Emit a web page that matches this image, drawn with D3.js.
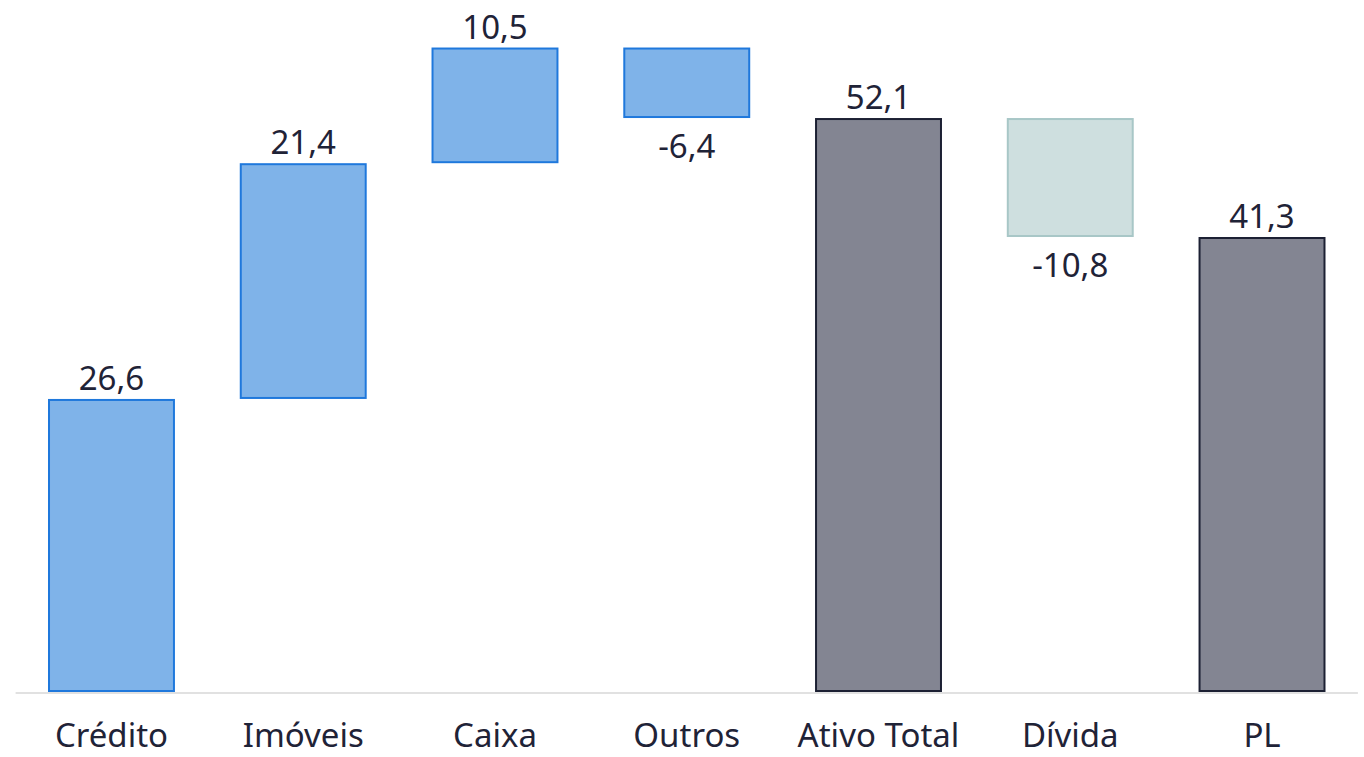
<!DOCTYPE html>
<html><head><meta charset="utf-8">
<script src="https://cdn.jsdelivr.net/npm/d3@7"></script>
<style>html,body{margin:0;padding:0;background:#fff;}svg{display:block;}</style>
</head><body>
<svg id="c" width="1364" height="757"></svg>
<script>
const categories = ["Crédito","Imóveis","Caixa","Outros","Ativo Total","Dívida","PL"];
const values = [26.6, 21.4, 10.5, -6.4, 52.1, -10.8, 41.3];
const kinds = ["delta","delta","delta","delta","total","delta","total"];
const labels = ["26,6","21,4","10,5","-6,4","52,1","-10,8","41,3"];

const W = 1364, H = 757;
const svg = d3.select("#c");
const font = "'Noto Sans', 'Open Sans', sans-serif";
const textColor = "#1f2337";

// compute waterfall spans
let cum = 0;
const bars = categories.map((c, i) => {
  let y0, y1;
  if (kinds[i] === "total") { y0 = 0; y1 = values[i]; cum = values[i]; }
  else { y0 = cum; y1 = cum + values[i]; cum = y1; }
  return {cat: c, v: values[i], kind: kinds[i], lo: Math.min(y0,y1), hi: Math.max(y0,y1), label: labels[i]};
});

const x = d3.scaleBand().domain(categories).range([15.6, 1357.9]).paddingInner(0.338).paddingOuter(0.169);
const y = d3.scaleLinear().domain([0, 60]).range([692, 31]);

function style(d) {
  if (d.kind === "total") return {fill: "#838592", stroke: "#1c2033"};
  if (d.v < 0 && d.cat === "Dívida") return {fill: "#cedfdf", stroke: "#a8c7c7"};
  return {fill: "#7fb3e9", stroke: "#1f78dc"};
}

// baseline
svg.append("line").attr("x1", 15.6).attr("x2", 1357.9).attr("y1", y(0) + 1).attr("y2", y(0) + 1)
  .attr("stroke", "#e1e1e1").attr("stroke-width", 2);

svg.selectAll("rect.bar").data(bars).join("rect").attr("class","bar")
  .attr("x", d => x(d.cat) + 1).attr("width", x.bandwidth() - 2)
  .attr("y", d => y(d.hi) + 1).attr("height", d => y(d.lo) - y(d.hi) - 2)
  .attr("fill", d => style(d).fill).attr("stroke", d => style(d).stroke).attr("stroke-width", 2);

// value labels
svg.selectAll("text.val").data(bars).join("text").attr("class","val")
  .attr("x", d => x(d.cat) + x.bandwidth()/2)
  .attr("y", d => d.v < 0 ? y(d.lo) + 40 : y(d.hi) - 9)
  .attr("text-anchor", "middle").attr("font-family", font).attr("font-size", 33)
  .attr("fill", textColor).text(d => d.label);

// category axis
const ax = svg.append("g").attr("transform", `translate(0,${y(0)})`)
  .call(d3.axisBottom(x).tickSize(0).tickPadding(0));
ax.select(".domain").remove();
ax.selectAll("text").attr("y", 55).attr("dy", 0).attr("font-family", font).attr("font-size", 33)
  .attr("fill", textColor);
</script>
</body></html>
